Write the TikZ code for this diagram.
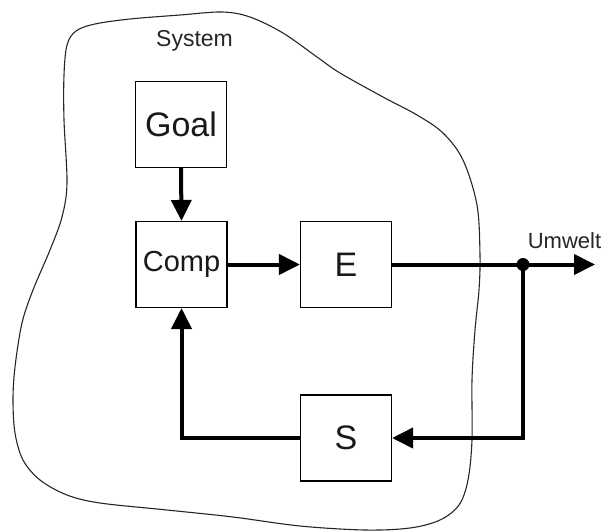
\documentclass[tikz,border=0pt]{standalone}
\usepackage{fontspec}
\setmainfont{Liberation Sans}
\usetikzlibrary{arrows.meta}
\begin{document}
\begin{tikzpicture}[x=1pt,y=-1pt,
  block/.style={draw=black, line width=1.1pt, minimum width=91pt, minimum height=86pt,
    inner sep=0pt, text=black!90},
  flow/.style={line width=4pt, -{Triangle[length=21pt,width=20pt]}},
  plain/.style={line width=4pt},
  boundary/.style={draw=black!85, line width=1.1pt}]
\useasboundingbox (0,0) rectangle (606,531);

% system boundary
\draw[boundary] plot[smooth cycle, tension=0.55] coordinates {
  (13,400) (15,433) (23,460) (40,480) (67,495) (100,503) (167,510) (233,517)
  (300,526) (365,530) (410,528) (440,520) (459,505) (468,480) (472,440)
  (472,380) (475,330) (479,290) (480,255) (477,205) (463,160) (443,133)
  (417,115) (383,97) (340,73) (317,57) (283,33) (250,17) (222,12) (180,15)
  (130,19) (95,24) (76,31) (67,45) (64,75) (64,120) (67,183) (62,217)
  (50,250) (33,290) (22,323) (15,367)};

\node[text=black!85] (sys) at (194.5,41) {\fontsize{23}{27}\selectfont System};

% blocks
\node[block] (goal) at (181,124.5) {\fontsize{34}{40}\selectfont Goal};
\node[block] (comp) at (181.5,264.5) {\fontsize{29}{34}\selectfont Comp};
\node[block] (eff)  at (346,264.5) {\fontsize{34}{40}\selectfont E};
\node[block] (sens) at (346,438) {\fontsize{34}{40}\selectfont S};

\coordinate (junc) at (523,264.5);
\coordinate (out) at (595,264.5);
\node[text=black!85] (env) at (564.5,240.5) {\fontsize{22}{26}\selectfont Umwelt};

% connectors
\draw[flow] (goal.south) -- (comp.north);
\draw[flow] (comp.east) -- (eff.west);
\draw[flow] (eff.east) -- (out);
\draw[flow] (junc) |- (sens.east);
\draw[flow] (sens.west) -| (comp.south);
\fill[black] (junc) circle (6.5pt);
\end{tikzpicture}
\end{document}
